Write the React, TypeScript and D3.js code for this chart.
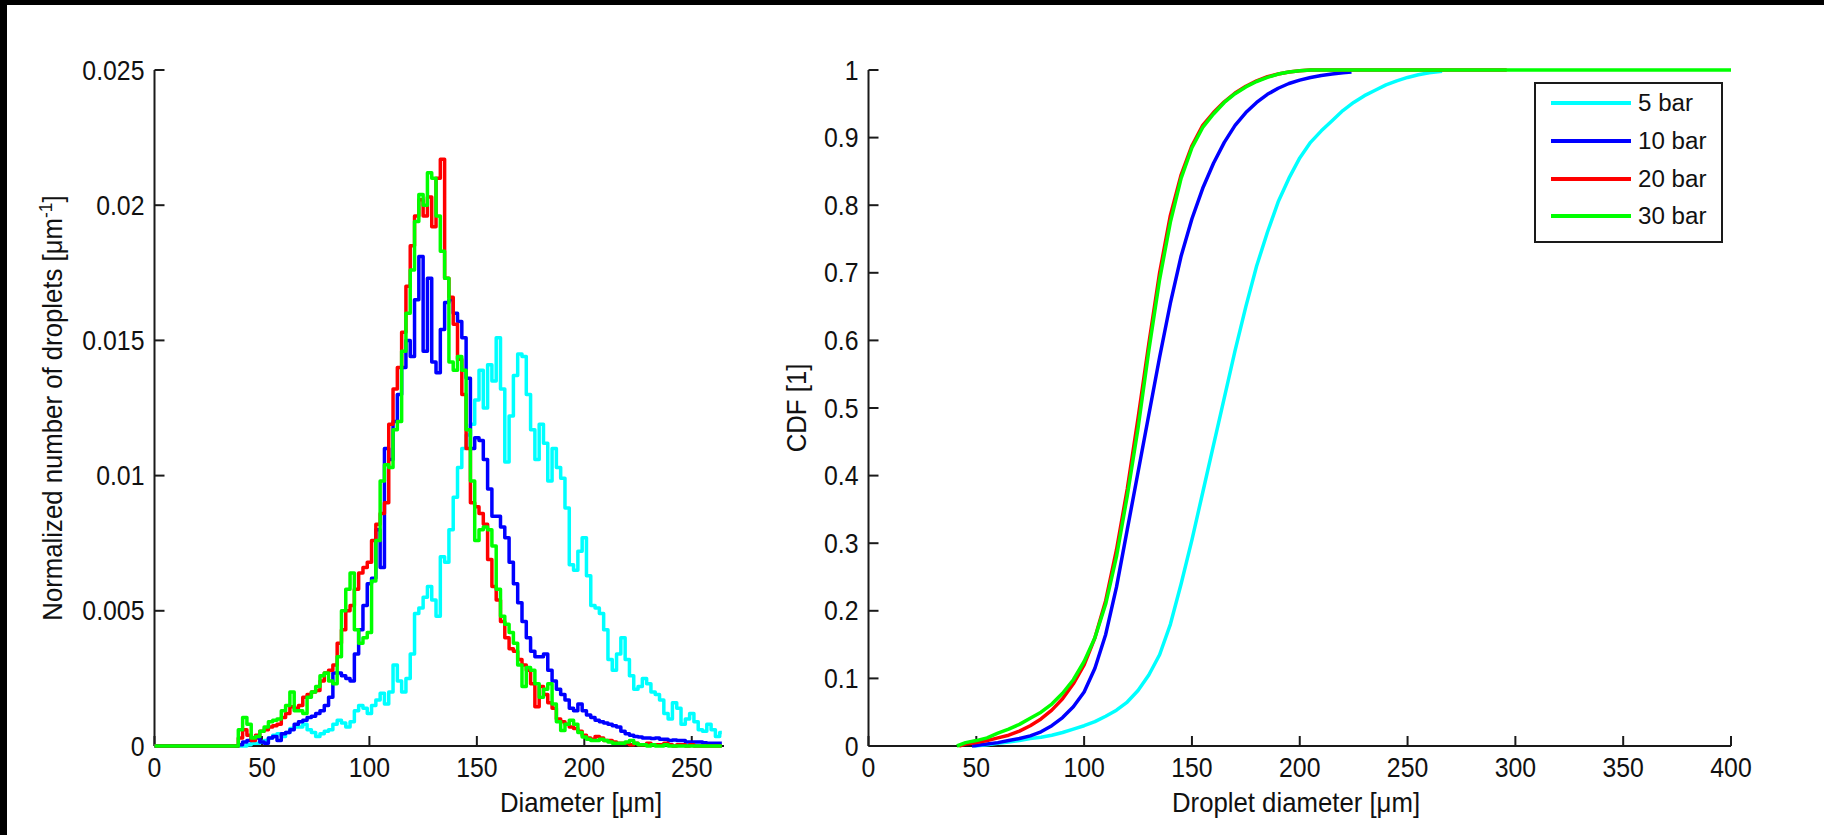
import React from 'react';
import * as d3 from 'd3';

const W = 1824;
const H = 835;
const FONT = '"Liberation Sans", Arial, Helvetica, sans-serif';
const AXIS = '#1a1a1a';

const seriesNames = ['5 bar', '10 bar', '20 bar', '30 bar'];
const seriesColors = ['#00ffff', '#0000ff', '#ff0000', '#00ff00'];

// left panel: droplet size distribution, 2 um bins from 36 to 264 um, values in 1e-3 um^-1
const histD = d3.range(36, 265, 2);
const hist5 = [
  0, 0, 0, 0, 0.05, 0.1, 0.1, 0.15, 0.2, 0.3,
  0.4, 0.45, 0.35, 0.5, 0.65, 0.7, 0.7, 0.8, 0.6, 0.5,
  0.35, 0.45, 0.55, 0.6, 0.8, 0.95, 0.85, 0.7, 0.9, 1.3,
  1.5, 1.4, 1.2, 1.5, 1.7, 1.95, 1.55, 2.0, 3.0, 2.4,
  2.0, 2.5, 3.4, 4.9, 5.1, 5.5, 5.9, 5.4, 4.8, 7.0,
  6.8, 8.0, 9.2, 10.3, 11.0, 11.5, 11.9, 12.8, 13.9, 12.5,
  14.1, 13.5, 15.1, 13.2, 10.5, 12.2, 13.7, 14.5, 14.4, 13.0,
  11.7, 10.6, 11.9, 11.2, 9.8, 11.0, 10.3, 9.9, 8.8, 6.7,
  6.5, 7.2, 7.7, 6.3, 5.2, 5.1, 4.9, 4.3, 3.2, 2.8,
  3.4, 4.0, 3.2, 2.6, 2.1, 2.2, 2.5, 2.3, 2.0, 1.9,
  1.7, 1.2, 1.0, 1.6, 1.4, 0.8, 1.0, 1.2, 0.9, 0.6,
  0.55, 0.8, 0.6, 0.35, 0.5,
];
const hist10 = [
  0, 0, 0.05, 0.15, 0.2, 0.3, 0.3, 0.15, 0.1, 0.3,
  0.35, 0.2, 0.45, 0.5, 0.6, 0.8, 0.9, 0.95, 1.05, 1.1,
  1.2, 1.3, 1.5, 1.8, 2.7, 2.7, 2.6, 2.5, 2.4, 3.4,
  4.3, 5.2, 6.0, 6.2, 8.0, 6.6, 11.0, 10.6, 12.0, 13.0,
  14.0, 15.0, 14.4, 16.5, 18.1, 14.6, 17.3, 14.2, 13.8, 15.4,
  16.4, 16.5, 16.0, 15.7, 15.1, 13.6, 11.0, 11.4, 11.3, 10.6,
  9.5, 8.5, 8.5, 8.1, 7.7, 6.8, 6.0, 5.3, 4.6, 4.0,
  3.5, 3.3, 3.3, 3.4, 2.8, 2.4, 2.1, 1.9, 1.7, 1.4,
  1.3, 1.55, 1.3, 1.15, 1.05, 0.95, 0.9, 0.85, 0.8, 0.75,
  0.7, 0.55, 0.45, 0.4, 0.35, 0.33, 0.3, 0.3, 0.28, 0.3,
  0.25, 0.25, 0.2, 0.22, 0.2, 0.2, 0.15, 0.15, 0.15, 0.15,
  0.12, 0.1, 0.1, 0.1, 0.1,
];
const hist20 = [
  0, 0, 0.3, 0.6, 0.4, 0.2, 0.4, 0.55, 0.6, 0.7,
  0.75, 0.8, 1.05, 1.2, 1.45, 1.4, 1.5, 1.8, 1.9, 2.0,
  2.05, 2.4, 2.7, 2.8, 3.0, 3.8, 4.3, 5.0, 5.2, 5.8,
  6.4, 6.6, 6.8, 7.6, 8.2, 8.6, 9.0, 11.9, 13.2, 14.0,
  15.3, 17.0, 18.5, 19.6, 20.2, 19.6, 20.3, 19.2, 21.0, 21.7,
  17.3, 16.6, 15.6, 14.3, 13.0, 11.0, 9.0, 8.85, 8.6, 8.2,
  6.9, 5.9, 5.4, 4.6, 4.0, 3.6, 3.5, 3.2, 3.0, 2.8,
  2.3, 1.45, 2.2, 1.9, 1.6, 1.4, 1.0, 0.9, 0.8, 0.7,
  0.65, 0.55, 0.4, 0.3, 0.25, 0.35, 0.3, 0.2, 0.2, 0.15,
  0.1, 0.1, 0.1, 0.05, 0.1, 0.05, 0.05, 0.1, 0.05, 0.05,
  0.05, 0.1, 0.05, 0, 0.05, 0.05, 0, 0.05, 0, 0,
  0, 0, 0, 0, 0,
];
const hist30 = [
  0, 0, 0.6, 1.05, 0.8, 0.3, 0.35, 0.55, 0.7, 0.9,
  0.95, 1.0, 1.3, 1.5, 2.0, 1.3, 1.3, 1.2, 1.8, 2.0,
  2.2, 2.6, 2.7, 2.4, 2.3, 3.3, 5.0, 5.8, 6.4, 4.3,
  3.8, 4.0, 4.2, 6.1, 7.6, 9.8, 10.4, 10.3, 11.7, 12.0,
  14.6, 16.0, 17.6, 19.4, 20.4, 20.0, 21.2, 21.0, 19.6, 18.3,
  17.3, 14.2, 13.9, 14.4, 13.9, 11.7, 9.8, 7.6, 8.0, 8.1,
  8.0, 7.4, 5.8, 4.8, 4.5, 4.2, 3.8, 3.0, 2.2, 2.9,
  2.8, 2.3, 1.8, 2.1, 2.3, 1.55, 0.9, 0.57, 0.8, 0.95,
  0.8, 0.5, 0.33, 0.25, 0.2, 0.2, 0.25, 0.2, 0.15, 0.1,
  0.1, 0.1, 0.15, 0.2, 0.1, 0.05, 0.05, 0, 0.05, 0,
  0, 0.05, 0, 0, 0, 0, 0, 0, 0, 0,
  0, 0, 0, 0, 0,
];

// right panel: cumulative distributions [diameter um, CDF]
const cdf5: [number, number][] = [
  [49, 0], [55, 0.002], [60, 0.004], [65, 0.006], [70, 0.008], [75, 0.011], [80, 0.013],
  [85, 0.016], [90, 0.02], [95, 0.025], [100, 0.03], [105, 0.036], [110, 0.044], [115, 0.053],
  [120, 0.065], [125, 0.082], [130, 0.105], [135, 0.135], [140, 0.18], [145, 0.24], [150, 0.305],
  [155, 0.375], [160, 0.445], [165, 0.515], [170, 0.585], [175, 0.65], [180, 0.71], [185, 0.76],
  [190, 0.805], [195, 0.84], [200, 0.87], [205, 0.893], [210, 0.91], [215, 0.925], [220, 0.94],
  [225, 0.952], [230, 0.962], [235, 0.97], [240, 0.978], [245, 0.984], [250, 0.989], [255, 0.993],
  [260, 0.996], [266, 0.998],
];
const cdf10: [number, number][] = [
  [48, 0], [55, 0.003], [60, 0.005], [65, 0.008], [70, 0.011], [75, 0.015], [80, 0.021],
  [85, 0.03], [90, 0.042], [95, 0.058], [100, 0.08], [105, 0.115], [110, 0.165], [115, 0.235],
  [120, 0.32], [125, 0.405], [130, 0.49], [135, 0.575], [140, 0.655], [145, 0.725], [150, 0.78],
  [155, 0.825], [160, 0.862], [165, 0.893], [170, 0.918], [175, 0.937], [180, 0.952], [185, 0.964],
  [190, 0.973], [195, 0.98], [200, 0.985], [205, 0.989], [210, 0.992], [215, 0.994], [220, 0.996],
  [224, 0.997],
];
const cdf20: [number, number][] = [
  [42, 0], [45, 0.003], [50, 0.005], [55, 0.008], [60, 0.012], [65, 0.016], [70, 0.022],
  [75, 0.03], [80, 0.04], [85, 0.053], [90, 0.07], [95, 0.092], [100, 0.12], [105, 0.16],
  [110, 0.215], [115, 0.29], [120, 0.38], [125, 0.485], [130, 0.595], [135, 0.7], [140, 0.785],
  [145, 0.845], [150, 0.888], [155, 0.918], [160, 0.937], [165, 0.953], [170, 0.966], [175, 0.976],
  [180, 0.984], [185, 0.99], [190, 0.994], [195, 0.997], [200, 0.999], [205, 1], [296, 1],
];
const cdf30: [number, number][] = [
  [41, 0], [45, 0.005], [50, 0.008], [55, 0.012], [60, 0.019], [65, 0.025], [70, 0.032],
  [75, 0.041], [80, 0.05], [85, 0.062], [90, 0.078], [95, 0.098], [100, 0.125], [105, 0.16],
  [110, 0.21], [115, 0.28], [120, 0.37], [125, 0.47], [130, 0.585], [135, 0.69], [140, 0.775],
  [145, 0.84], [150, 0.885], [155, 0.915], [160, 0.935], [165, 0.952], [170, 0.965], [175, 0.975],
  [180, 0.983], [185, 0.989], [190, 0.994], [195, 0.997], [200, 0.999], [205, 1], [400, 1],
];

const histTicksX = [0, 50, 100, 150, 200, 250];
const histTicksY = [0, 5, 10, 15, 20, 25];
const histTickLabelsY = ['0', '0.005', '0.01', '0.015', '0.02', '0.025'];
const cdfTicksX = [0, 50, 100, 150, 200, 250, 300, 350, 400];
const cdfTicksY = [0, 0.1, 0.2, 0.3, 0.4, 0.5, 0.6, 0.7, 0.8, 0.9, 1];

const TOP = 70;
const BOTTOM = 746;
const TICK = 10;

// squeezed text, the original labels are a bit narrower than Arial
function Txt({ x, y, size, sx = 0.92, anchor = 'middle', rotate = 0, children }: any) {
  return (
    <g transform={`translate(${x},${y}) rotate(${rotate}) scale(${sx},1)`}>
      <text x={0} y={0} fontSize={size} textAnchor={anchor} fontFamily={FONT} fill="#111">
        {children}
      </text>
    </g>
  );
}

function Axes({ x, y, ticksX, ticksY, labelsY }: any) {
  const [x0, x1] = x.range();
  return (
    <g>
      <line x1={x0} x2={x1} y1={BOTTOM} y2={BOTTOM} stroke={AXIS} strokeWidth={2} />
      <line x1={x0} x2={x0} y1={TOP} y2={BOTTOM} stroke={AXIS} strokeWidth={2} />
      {ticksX.map((t: number) => (
        <g key={'x' + t}>
          <line x1={x(t)} x2={x(t)} y1={BOTTOM} y2={BOTTOM - TICK} stroke={AXIS} strokeWidth={2} />
          <Txt x={x(t)} y={777} size={27}>{String(t)}</Txt>
        </g>
      ))}
      {ticksY.map((t: number, i: number) => (
        <g key={'y' + t}>
          <line x1={x0} x2={x0 + TICK} y1={y(t)} y2={y(t)} stroke={AXIS} strokeWidth={2} />
          <Txt x={x0 - 10} y={y(t) + 9.5} size={27} anchor="end">{labelsY[i]}</Txt>
        </g>
      ))}
    </g>
  );
}

export default function App() {
  const xL = d3.scaleLinear().domain([0, 265]).range([154.5, 724]);
  const yL = d3.scaleLinear().domain([0, 25]).range([BOTTOM, TOP]);
  const xR = d3.scaleLinear().domain([0, 400]).range([868.5, 1731]);
  const yR = d3.scaleLinear().domain([0, 1]).range([BOTTOM, TOP]);

  const histLine = d3.line<[number, number]>()
    .x(d => xL(d[0]))
    .y(d => yL(d[1]))
    .curve(d3.curveStep);
  const cdfLine = d3.line<[number, number]>()
    .x(d => xR(d[0]))
    .y(d => yR(d[1]));

  const hists = [hist5, hist10, hist20, hist30].map(vals =>
    [[0, 0] as [number, number]].concat(histD.map((d, i) => [d, vals[i]] as [number, number]))
  );
  const cdfs = [cdf5, cdf10, cdf20, cdf30];

  const legendRows = [103, 141, 179, 216];

  return (
    <svg width={W} height={H} style={{ position: 'absolute', left: 0, top: 0, display: 'block', background: '#fff' }}>
      <rect x={0} y={0} width={W} height={H} fill="#fff" />
      <rect x={0} y={0} width={W} height={5} fill="#000" />
      <rect x={0} y={0} width={7} height={H} fill="#000" />

      {/* left: size distribution */}
      <Axes x={xL} y={yL} ticksX={histTicksX} ticksY={histTicksY} labelsY={histTickLabelsY} />
      {hists.map((h, i) => (
        <path key={i} d={histLine(h) || ''} fill="none" stroke={seriesColors[i]} strokeWidth={3.5} strokeLinejoin="round" />
      ))}
      <Txt x={581} y={812} size={28}>Diameter [μm]</Txt>
      <g transform="translate(62,408) rotate(-90) scale(0.92,1)">
        <text x={0} y={0} fontSize={28} textAnchor="middle" fontFamily={FONT} fill="#111">
          Normalized number of droplets [μm<tspan dy={-10} fontSize={19}>-1</tspan><tspan dy={10}>]</tspan>
        </text>
      </g>

      {/* right: cumulative distribution */}
      <Axes x={xR} y={yR} ticksX={cdfTicksX} ticksY={cdfTicksY} labelsY={cdfTicksY.map(String)} />
      {cdfs.map((c, i) => (
        <path key={i} d={cdfLine(c) || ''} fill="none" stroke={seriesColors[i]} strokeWidth={3.5} strokeLinejoin="round" />
      ))}
      <Txt x={1296} y={812} size={28}>Droplet diameter [μm]</Txt>
      <Txt x={806} y={408} size={28} rotate={-90}>CDF [1]</Txt>

      {/* legend */}
      <rect x={1535} y={83} width={187} height={159} fill="#fff" stroke={AXIS} strokeWidth={2} />
      {seriesNames.map((n, i) => (
        <g key={n}>
          <line x1={1551} x2={1631} y1={legendRows[i]} y2={legendRows[i]} stroke={seriesColors[i]} strokeWidth={4} />
          <Txt x={1638} y={legendRows[i] + 8} size={23} sx={1.05} anchor="start">{n}</Txt>
        </g>
      ))}
    </svg>
  );
}
